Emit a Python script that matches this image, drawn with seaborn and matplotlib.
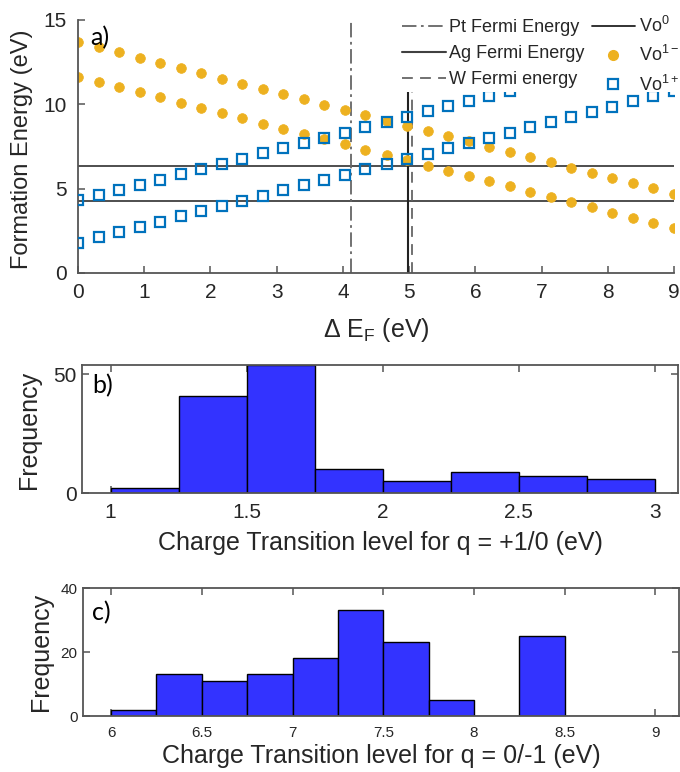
import numpy as np
import pandas as pd
import matplotlib
matplotlib.use("Agg")
import matplotlib.pyplot as plt
from matplotlib.lines import Line2D
from matplotlib.patches import Rectangle
import seaborn as sns

# ---- panel a) formation energy vs Fermi level ----
delta_ef = [0.00, 0.31, 0.62, 0.93, 1.24, 1.55, 1.86, 2.17, 2.48, 2.79,
            3.10, 3.41, 3.72, 4.03, 4.34, 4.66, 4.97, 5.28, 5.59, 5.90,
            6.21, 6.52, 6.83, 7.14, 7.45, 7.76, 8.07, 8.38, 8.69, 9.00]
vo_minus_upper = [13.70, 13.39, 13.08, 12.77, 12.46, 12.15, 11.84, 11.53, 11.22, 10.91,
                  10.60, 10.29, 9.98, 9.67, 9.36, 9.04, 8.73, 8.42, 8.11, 7.80,
                  7.49, 7.18, 6.87, 6.56, 6.25, 5.94, 5.63, 5.32, 5.01, 4.70]
vo_minus_lower = [11.65, 11.34, 11.03, 10.72, 10.41, 10.10, 9.79, 9.48, 9.17, 8.86,
                  8.55, 8.24, 7.93, 7.62, 7.31, 6.99, 6.68, 6.37, 6.06, 5.75,
                  5.44, 5.13, 4.82, 4.51, 4.20, 3.89, 3.58, 3.27, 2.96, 2.65]
vo_plus_upper = [4.30, 4.61, 4.92, 5.23, 5.54, 5.85, 6.16, 6.47, 6.78, 7.09,
                 7.40, 7.71, 8.02, 8.33, 8.64, 8.96, 9.27, 9.58, 9.89, 10.20,
                 10.51, 10.82, 11.13, 11.44, 11.75, 12.06, 12.37, 12.68, 12.99, 13.30]
vo_plus_lower = [1.80, 2.11, 2.42, 2.73, 3.04, 3.35, 3.66, 3.97, 4.28, 4.59,
                 4.90, 5.21, 5.52, 5.83, 6.14, 6.46, 6.77, 7.08, 7.39, 7.70,
                 8.01, 8.32, 8.63, 8.94, 9.25, 9.56, 9.87, 10.18, 10.49, 10.80]
vo_neutral = [6.35, 4.25]
pt_fermi = 4.13
ag_fermi = 4.98
w_fermi = 5.05

# ---- panel b) and c) histograms ----
edges_b = [1.00, 1.25, 1.50, 1.75, 2.00, 2.25, 2.50, 2.75, 3.00]
counts_b = [2, 41, 54, 10, 5, 9, 7, 6]
edges_c = [6.00, 6.25, 6.50, 6.75, 7.00, 7.25, 7.50, 7.75, 8.00, 8.25, 8.50, 8.75, 9.00]
counts_c = [2, 13, 11, 13, 18, 33, 23, 5, 0, 25, 0, 0]

ORANGE = "#EDB120"
BLUE = "#0072BD"
BAR = "#3333FF"
AXC = "#555555"
TXT = "#262626"

sns.set_style("ticks")
plt.rcParams["font.family"] = ["Liberation Sans", "DejaVu Sans"]
plt.rcParams["mathtext.fontset"] = "custom"
plt.rcParams["mathtext.rm"] = "Liberation Sans"
plt.rcParams["mathtext.it"] = "Liberation Sans"
plt.rcParams["mathtext.default"] = "regular"

W, H = 680, 772
fig = plt.figure(figsize=(W / 100, H / 100), dpi=100)


def box(l, r, t, b):
    return [l / W, 1 - b / H, (r - l) / W, (b - t) / H]


ax_a = fig.add_axes(box(78, 674, 20, 273))
ax_b = fig.add_axes(box(82, 678, 365, 493))
ax_c = fig.add_axes(box(83, 679, 588, 716))

# panel a
for yv in vo_neutral:
    ax_a.axhline(yv, color="#404040", lw=1.3, zorder=1)
ax_a.axvline(pt_fermi, color="#666666", lw=1.3, ls=(0, (8, 2.5, 1.5, 2.5)), zorder=1)
ax_a.axvline(ag_fermi, color="#222222", lw=1.5, zorder=1)
ax_a.axvline(w_fermi, color="#666666", lw=1.3, ls=(0, (6, 4)), zorder=1)

for ys in (vo_minus_upper, vo_minus_lower):
    sns.lineplot(x=delta_ef, y=ys, ax=ax_a, linestyle="", marker="o",
                 markersize=7, color=ORANGE, markeredgecolor=ORANGE,
                 markeredgewidth=0.5, zorder=2)
for ys in (vo_plus_upper, vo_plus_lower):
    sns.lineplot(x=delta_ef, y=ys, ax=ax_a, linestyle="", marker="s",
                 markersize=6.5, markerfacecolor="none", markeredgecolor=BLUE,
                 markeredgewidth=1.6, color=BLUE, zorder=3)

ax_a.set_xlim(0, 9)
ax_a.set_ylim(0, 15)
ax_a.set_xticks(range(0, 10))
ax_a.set_yticks([0, 5, 10, 15])
sns.despine(ax=ax_a)
ax_a.set_xlabel(r"$\Delta$ E$_F$ (eV)", fontsize=18, color=TXT)
ax_a.set_ylabel("Formation Energy (eV)", fontsize=17, color=TXT)
ax_a.xaxis.set_label_coords(0.5, -0.17)
ax_a.yaxis.set_label_coords(-0.076, 0.49)
ax_a.text(0.02, 0.975, "a)", transform=ax_a.transAxes, fontsize=18,
          va="top", ha="left", color="black", family=["Lato", "DejaVu Sans"])

# white legend backdrop (hides the marks behind the legend, as in the original)
ax_a.add_patch(Rectangle((395 / W, 1 - 92 / H), 285 / W, 92 / H,
                         transform=fig.transFigure, facecolor="white",
                         edgecolor="none", clip_on=False, zorder=4.5))

handles = [
    Line2D([], [], color="#666666", lw=1.3, ls=(0, (8, 2.5, 1.5, 2.5))),
    Line2D([], [], color="#404040", lw=1.5),
    Line2D([], [], color="#666666", lw=1.3, ls=(0, (6, 4))),
    Line2D([], [], color="#222222", lw=1.3),
    Line2D([], [], ls="", marker="o", ms=7, color=ORANGE),
    Line2D([], [], ls="", marker="s", ms=6.5, mfc="none", mec=BLUE, mew=1.6),
]
labels = ["Pt Fermi Energy", "Ag Fermi Energy", "W Fermi energy",
          "Vo$^{0}$", "Vo$^{1-}$", "Vo$^{1+}$"]
leg = ax_a.legend(handles, labels, ncol=2, loc="upper left",
                  bbox_to_anchor=(395 / W, 1 - 9 / H), bbox_transform=fig.transFigure,
                  borderaxespad=0, frameon=False,
                  fontsize=13, handlelength=2.4, handletextpad=0.2,
                  columnspacing=0.4, labelspacing=0.5, borderpad=0.4)
leg.set_zorder(5)
for t in leg.get_texts():
    t.set_color(TXT)

# panels b, c
centers_b = [(edges_b[i] + edges_b[i + 1]) / 2 for i in range(len(counts_b))]
centers_c = [(edges_c[i] + edges_c[i + 1]) / 2 for i in range(len(counts_c))]
sns.histplot(x=centers_b, weights=counts_b, bins=edges_b, ax=ax_b,
             color=BAR, edgecolor="black", linewidth=1.0, alpha=1)
sns.histplot(x=centers_c, weights=counts_c, bins=edges_c, ax=ax_c,
             color=BAR, edgecolor="black", linewidth=1.0, alpha=1)

ax_b.set_xlim(0.895, 3.085)
ax_b.set_ylim(0, 54)
ax_b.set_xticks([1, 1.5, 2, 2.5, 3])
ax_b.set_xticklabels(["1", "1.5", "2", "2.5", "3"])
ax_b.set_yticks([0, 50])
ax_b.set_xlabel("Charge Transition level for q = +1/0 (eV)", fontsize=18, color=TXT)
ax_b.set_ylabel("Frequency", fontsize=18, color=TXT)
ax_b.xaxis.set_label_coords(0.5, -0.3)
ax_b.yaxis.set_label_coords(-0.069, 0.49)
ax_b.text(0.018, 0.93, "b)", transform=ax_b.transAxes, fontsize=18,
          va="top", ha="left", color="black", family=["Lato", "DejaVu Sans"])

ax_c.set_xlim(5.845, 9.13)
ax_c.set_ylim(0, 40)
ax_c.set_xticks([6, 6.5, 7, 7.5, 8, 8.5, 9])
ax_c.set_xticklabels(["6", "6.5", "7", "7.5", "8", "8.5", "9"])
ax_c.set_yticks([0, 20, 40])
ax_c.set_xlabel("Charge Transition level for q = 0/-1 (eV)", fontsize=18, color=TXT)
ax_c.set_ylabel("Frequency", fontsize=18, color=TXT)
ax_c.xaxis.set_label_coords(0.5, -0.22)
ax_c.yaxis.set_label_coords(-0.05, 0.5)
ax_c.text(0.015, 0.9, "c)", transform=ax_c.transAxes, fontsize=18,
          va="top", ha="left", color="black", family=["Lato", "DejaVu Sans"])

for ax, fs, full in ((ax_a, 15, False), (ax_b, 15, True), (ax_c, 11, True)):
    for sp in ax.spines.values():
        sp.set_color(AXC)
        sp.set_linewidth(1.3)
    ax.tick_params(direction="in", length=5, width=1.1, color=AXC,
                   labelsize=fs, labelcolor=TXT, top=full, right=full)
    ax.tick_params(axis="x", pad=7)
    ax.tick_params(axis="y", pad=4 if full else 8)

fig.savefig("out.png", dpi=100)
